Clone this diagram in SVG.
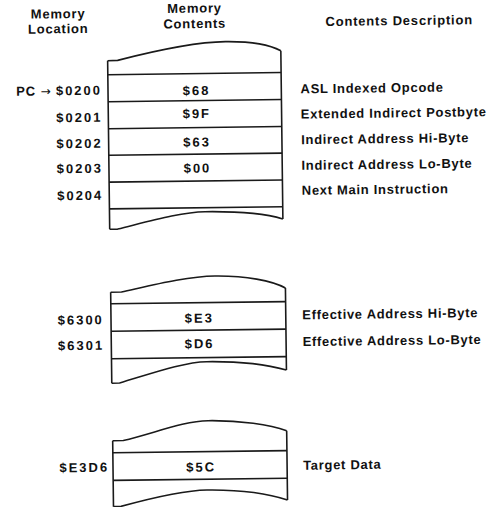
<svg xmlns="http://www.w3.org/2000/svg" width="494" height="507" viewBox="0 0 494 507">
<style>
.edge{fill:none;stroke:#1a1a1a;stroke-width:1.6;stroke-linejoin:round}
.t{font-family:"Liberation Sans",Arial,sans-serif;font-weight:bold;font-size:13px;fill:#111}
.num{letter-spacing:2px}
.desc{letter-spacing:0.7px}
.hdr{letter-spacing:0.8px;text-anchor:middle}
.lab{text-anchor:end}
.val{text-anchor:middle}
.arr{font-family:"DejaVu Sans",sans-serif;font-weight:normal;font-size:12px}
</style>
<rect width="494" height="507" fill="#fff"/>
<g transform="rotate(-0.7 247 253)">
<g id="headers">
<text class="t hdr" x="61" y="16">Memory</text>
<text class="t hdr" x="61" y="31">Location</text>
<text class="t hdr" x="197.5" y="12">Memory</text>
<text class="t hdr" x="197.5" y="27.5">Contents</text>
<text class="t hdr" x="402" y="27">Contents Description</text>
</g>
<g id="block1">
<path class="edge" d="M110,59 L120,58.8 C160,49 200,41.4 228,41.4 C252,41.4 272,45 283.3,51.2"/>
<path class="edge" d="M110,59 L110,227.6 M283.3,51.2 L283.3,219.4"/>
<path class="edge" d="M110,227.6 L118,227.5 C150,220 182,211.2 205.5,211.2 C236,211.2 266,214 283.3,219.4"/>
<path class="edge" d="M110,73 H283.3 M110,100 H283.3 M110,127 H283.3 M110,153.6 H283.3 M110,180.4 H283.3 M110,207.2 H283.3"/>
<text class="t lab" x="104" y="93"><tspan letter-spacing="0.8">PC</tspan><tspan class="arr" dx="5">→</tspan><tspan class="num" dx="5">$0200</tspan></text>
<text class="t lab num" x="104" y="120">$0201</text>
<text class="t lab num" x="104" y="146">$0202</text>
<text class="t lab num" x="104" y="171">$0203</text>
<text class="t lab num" x="104" y="198">$0204</text>
<text class="t val num" x="198.5" y="94.5">$68</text>
<text class="t val num" x="198.5" y="117.5">$9F</text>
<text class="t val num" x="198.5" y="146">$63</text>
<text class="t val num" x="198.5" y="172">$00</text>
<text class="t desc" x="302.5" y="94">ASL Indexed Opcode</text>
<text class="t desc" x="302.5" y="119.2">Extended Indirect Postbyte</text>
<text class="t desc" x="302.5" y="144.8">Indirect Address Hi-Byte</text>
<text class="t desc" x="302.5" y="170.5">Indirect Address Lo-Byte</text>
<text class="t desc" x="302.5" y="195.5">Next Main Instruction</text>
</g>
<g id="block2">
<path class="edge" d="M110.2,290.6 L121,290.4 C152,284 187,275.6 214.7,275.6 C245,275.6 272,281 285,288.5"/>
<path class="edge" d="M110.2,290.6 L110.2,381.6 M285,288.5 L285,370.5"/>
<path class="edge" d="M110.2,381.6 L118,381.4 C148,373 182,361.2 205.4,361.2 C236,361.2 266,365 285,370.5"/>
<path class="edge" d="M110.2,302.1 H285 M110.2,329.6 H285 M110.2,357.1 H285"/>
<text class="t lab num" x="103" y="322.5">$6300</text>
<text class="t lab num" x="103" y="348">$6301</text>
<text class="t val num" x="198.5" y="322">$E3</text>
<text class="t val num" x="198.5" y="347.7">$D6</text>
<text class="t desc" x="301.5" y="320">Effective Address Hi-Byte</text>
<text class="t desc" x="301.5" y="346.8">Effective Address Lo-Byte</text>
</g>
<g id="block3">
<path class="edge" d="M110.4,439.1 L121,439 C152,432 182,420.2 206,420.2 C238,420.2 268,425 284.5,431.2"/>
<path class="edge" d="M110.4,439.1 L110.4,505 M284.5,431.2 L284.5,500.5"/>
<path class="edge" d="M110.4,505 L118,504.8 C148,497 180,489.5 204.1,489.5 C236,489.5 266,494 284.5,500.5"/>
<path class="edge" d="M110.4,451.1 H284.5 M110.4,478.7 H284.5"/>
<text class="t lab num" x="106.5" y="470">$E3D6</text>
<text class="t val num" x="198.5" y="471">$5C</text>
<text class="t desc" x="300.5" y="470.4">Target Data</text>
</g>
</g>
</svg>
